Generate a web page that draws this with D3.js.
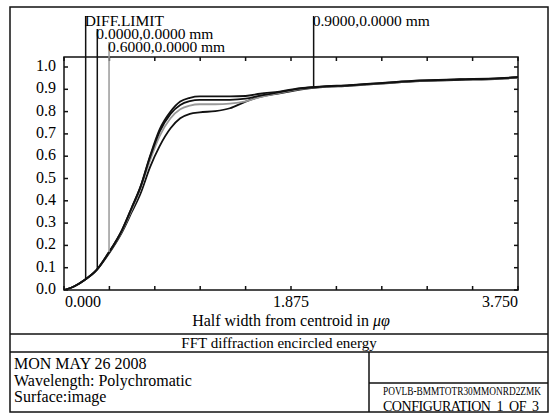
<!DOCTYPE html>
<html>
<head>
<meta charset="utf-8">
<script src="https://cdn.jsdelivr.net/npm/d3@7"></script>
<style>
  body { margin: 0; background: #fff; }
</style>
</head>
<body>
<div id="chart"></div>
<script>
// half width from centroid (x) shared by all series
let xs = [0, 0.09, 0.17, 0.27, 0.36, 0.48, 0.56, 0.63, 0.71, 0.79, 0.88, 0.96, 1.04, 1.12,
  1.25, 1.37, 1.5, 1.62, 1.78, 1.95, 2.11, 2.36, 2.61, 2.94, 3.27, 3.6, 3.75];
let diffLimit = [0, 0.018, 0.045, 0.09, 0.16, 0.27, 0.37, 0.46, 0.6, 0.72, 0.8, 0.845, 0.862, 0.868,
  0.868, 0.868, 0.87, 0.88, 0.89, 0.905, 0.912, 0.919, 0.928, 0.94, 0.945, 0.95, 0.955];
let field00 = [0, 0.018, 0.045, 0.09, 0.16, 0.27, 0.37, 0.46, 0.595, 0.71, 0.79, 0.83, 0.847, 0.853,
  0.853, 0.853, 0.858, 0.872, 0.887, 0.903, 0.911, 0.918, 0.927, 0.939, 0.944, 0.949, 0.954];
let field06 = [0, 0.018, 0.045, 0.09, 0.16, 0.265, 0.36, 0.45, 0.58, 0.69, 0.77, 0.81, 0.827, 0.833,
  0.833, 0.836, 0.846, 0.865, 0.884, 0.901, 0.91, 0.917, 0.926, 0.938, 0.943, 0.948, 0.953];
let field09 = [0, 0.018, 0.045, 0.09, 0.155, 0.26, 0.35, 0.43, 0.55, 0.645, 0.725, 0.77, 0.79, 0.797,
  0.802, 0.815, 0.845, 0.866, 0.882, 0.899, 0.909, 0.916, 0.925, 0.937, 0.942, 0.947, 0.952];

let seriesNames = ["DIFF.LIMIT", "0.0000,0.0000 mm", "0.6000,0.0000 mm", "0.9000,0.0000 mm"];
let labelX = [0.179, 0.275, 0.372, 2.062];
let labelRow = [0, 1, 2, 0];
let seriesColor = ["#111", "#111", "#999", "#111"];

let xTicks = [0, 0.375, 0.75, 1.125, 1.5, 1.875, 2.25, 2.625, 3, 3.375, 3.75];
let xTickLabels = ["0.000", "1.875", "3.750"];
let yTicks = [0, 0.1, 0.2, 0.3, 0.4, 0.5, 0.6, 0.7, 0.8, 0.9, 1.0];

let title = "FFT diffraction encircled energy";
let infoLines = ["MON MAY 26 2008", "Wavelength: Polychromatic", "Surface:image"];
let fileName = "POVLB-BMMTOTR30MMONRD2ZMK";
let configText = "CONFIGURATION  1  OF  3";

let svg;
let serif = "'Liberation Serif', 'Times New Roman', Times, 'DejaVu Serif', serif";

function init() {
  svg = d3
    .select("#chart")
    .append("svg")
    .attr("width", 558)
    .attr("height", 413)
    .attr("font-family", serif)
    .style("font-family", serif);
  draw();
}

function draw() {
  let left = 64, right = 518, top = 57, bottom = 290;
  let x = d3.scaleLinear().domain([0, 3.75]).range([left, right]);
  let y = d3.scaleLinear().domain([0, 1]).range([bottom, 67]);

  // outer frame and boxes
  let frame = svg.append("g").attr("stroke", "#111").attr("stroke-width", 1.5).attr("fill", "none");
  frame.append("rect").attr("x", 10).attr("y", 7).attr("width", 538).attr("height", 405);
  frame.append("line").attr("x1", 10).attr("x2", 548).attr("y1", 334).attr("y2", 334);
  frame.append("line").attr("x1", 10).attr("x2", 548).attr("y1", 352).attr("y2", 352);
  frame.append("line").attr("x1", 369).attr("x2", 369).attr("y1", 352).attr("y2", 412);
  frame.append("line").attr("x1", 369).attr("x2", 548).attr("y1", 383).attr("y2", 383);

  // plot box
  frame.append("rect")
    .attr("x", left).attr("y", top)
    .attr("width", right - left).attr("height", bottom - top);

  // ticks on all four sides, pointing inward
  let tk = 4;
  let ticks = svg.append("g").attr("stroke", "#111").attr("stroke-width", 1.5);
  xTicks.forEach(function (t) {
    ticks.append("line").attr("x1", x(t)).attr("x2", x(t)).attr("y1", bottom).attr("y2", bottom - tk);
    ticks.append("line").attr("x1", x(t)).attr("x2", x(t)).attr("y1", top).attr("y2", top + tk);
  });
  yTicks.forEach(function (t) {
    ticks.append("line").attr("x1", left).attr("x2", left + tk).attr("y1", y(t)).attr("y2", y(t));
    ticks.append("line").attr("x1", right).attr("x2", right - tk).attr("y1", y(t)).attr("y2", y(t));
  });

  // tick labels
  svg.selectAll(".ylab")
    .data(yTicks)
    .enter()
    .append("text")
    .attr("class", "ylab")
    .attr("x", 56)
    .attr("y", function (d) { return y(d) + 4; })
    .attr("text-anchor", "end")
    .style("font-size", "16px")
    .text(function (d) { return d.toFixed(1); });

  let xl = [0, 1.875, 3.75];
  let anchors = ["start", "middle", "end"];
  xl.forEach(function (v, i) {
    svg.append("text")
      .attr("x", x(v) + (i == 0 ? 1 : 0))
      .attr("y", 307)
      .attr("text-anchor", anchors[i])
      .style("font-size", "16px")
      .text(xTickLabels[i]);
  });

  let axisLabel = svg.append("text")
    .attr("x", x(1.875))
    .attr("y", 326)
    .attr("text-anchor", "middle")
    .style("font-size", "16px");
  axisLabel.append("tspan").text("Half width from centroid in ");
  axisLabel.append("tspan").style("font-style", "italic").text("\u03bc\u03c6");

  // curves
  let series = [diffLimit, field00, field06, field09];
  let line = d3.line()
    .x(function (d, i) { return x(xs[i]); })
    .y(function (d) { return y(d); })
    .curve(d3.curveMonotoneX);

  // draw lowest first so the black ones sit on top
  [3, 2, 1, 0].forEach(function (k) {
    svg.append("path")
      .datum(series[k])
      .attr("d", line)
      .attr("fill", "none")
      .attr("stroke", seriesColor[k])
      .attr("stroke-width", 1.8);
  });

  // series labels with pointer lines
  seriesNames.forEach(function (name, k) {
    let base = 26 + 13 * labelRow[k];
    let v = interp(series[k], labelX[k]);
    svg.append("line")
      .attr("x1", x(labelX[k])).attr("x2", x(labelX[k]))
      .attr("y1", base - 10).attr("y2", y(v))
      .attr("stroke", seriesColor[k])
      .attr("stroke-width", 1.5);
    svg.append("text")
      .attr("x", x(labelX[k]) - 1)
      .attr("y", base)
      .style("font-size", "15.5px")
      .text(name);
  });

  // title and info block
  svg.append("text")
    .attr("x", 279).attr("y", 348)
    .attr("text-anchor", "middle")
    .style("font-size", "15px")
    .text(title);

  svg.selectAll(".info")
    .data(infoLines)
    .enter()
    .append("text")
    .attr("class", "info")
    .attr("x", 14)
    .attr("y", function (d, i) { return 369 + i * 16.5; })
    .style("font-size", "16px")
    .text(function (d) { return d; });

  svg.append("text")
    .attr("x", 383).attr("y", 395)
    .attr("textLength", 158)
    .attr("lengthAdjust", "spacingAndGlyphs")
    .style("font-size", "12px")
    .text(fileName);

  svg.append("text")
    .attr("x", 383).attr("y", 411)
    .attr("textLength", 156)
    .attr("lengthAdjust", "spacing")
    .style("font-size", "14px")
    .style("white-space", "pre")
    .text(configText);
}

function interp(vals, xv) {
  let i = d3.bisectRight(xs, xv) - 1;
  let t = (xv - xs[i]) / (xs[i + 1] - xs[i]);
  return vals[i] + t * (vals[i + 1] - vals[i]);
}

init();
</script>
</body>
</html>
